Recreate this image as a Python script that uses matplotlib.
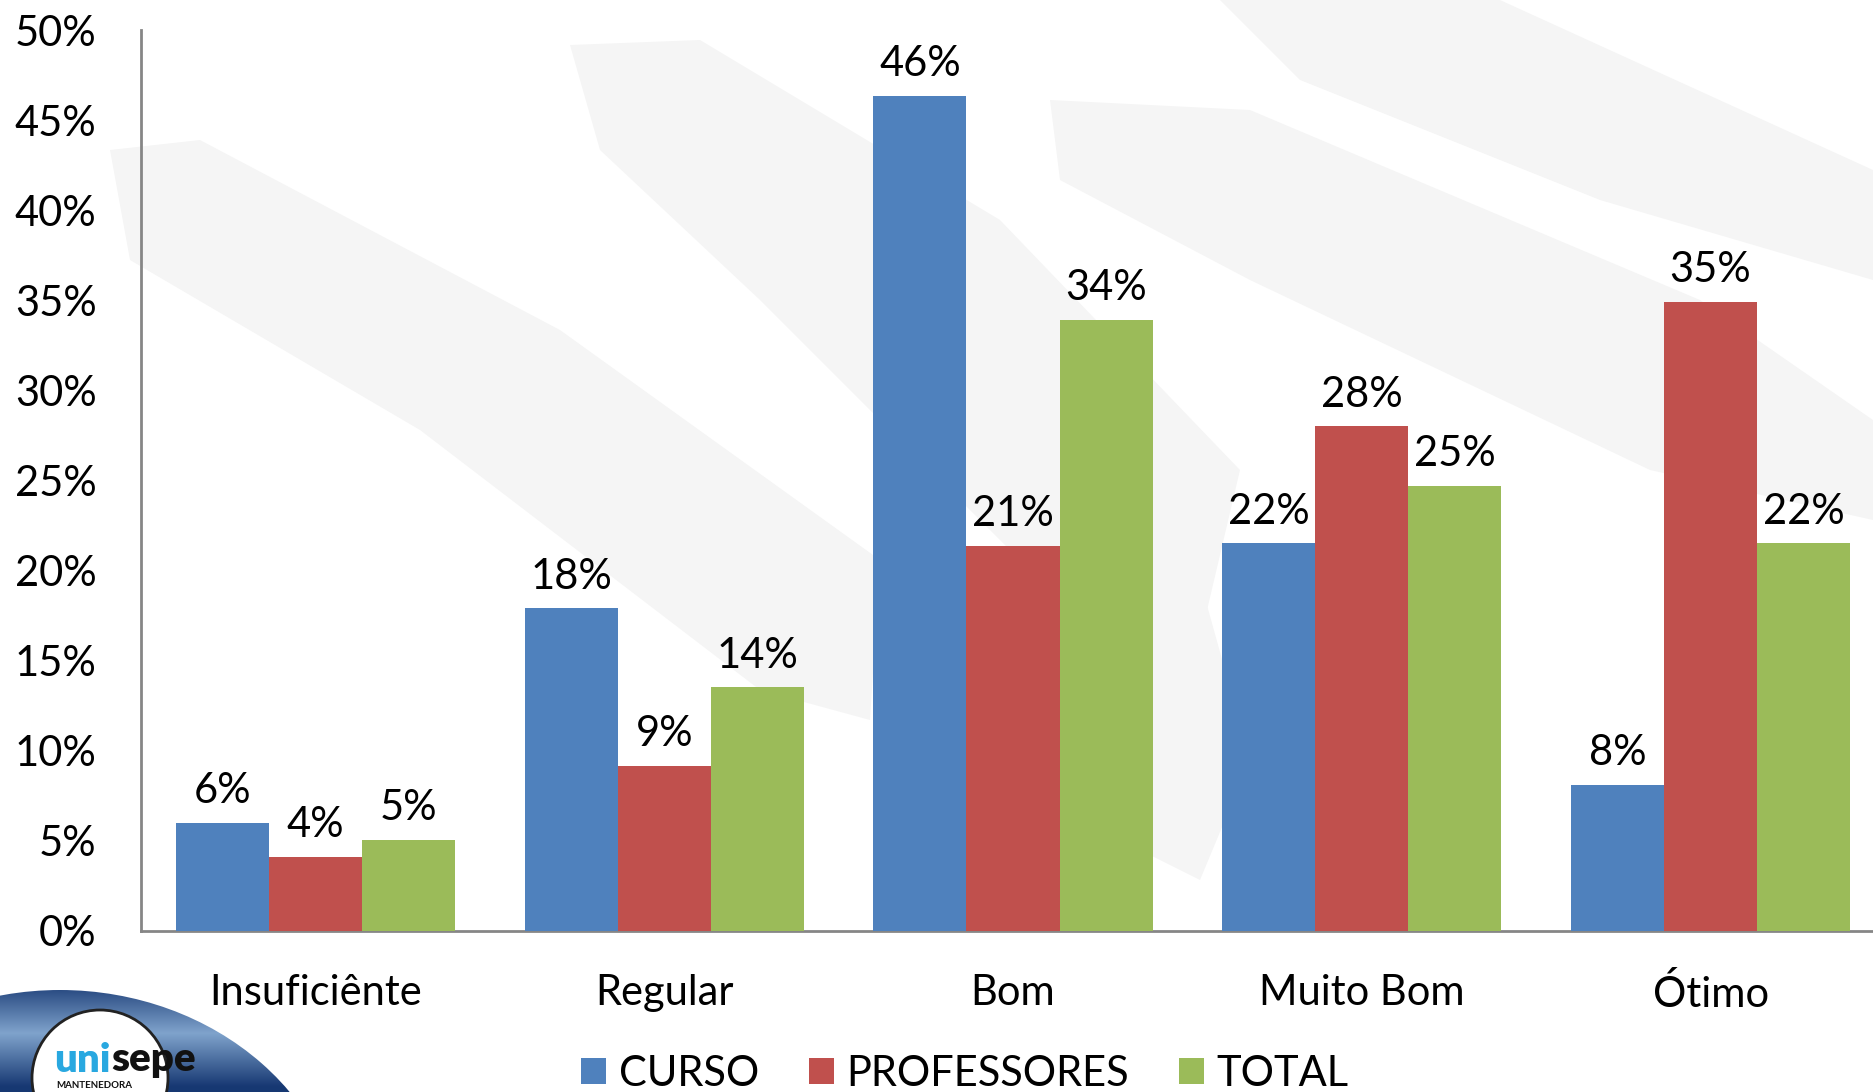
import matplotlib
matplotlib.use("Agg")
import matplotlib.pyplot as plt
import numpy as np
from matplotlib.patches import Ellipse, Circle, Polygon
from matplotlib.transforms import offset_copy

categories = ["Insuficiênte", "Regular", "Bom", "Muito Bom", "Ótimo"]
curso = [5.97, 17.9, 46.35, 21.5, 8.1]
professores = [4.1, 9.15, 21.35, 28.0, 34.9]
total = [5.05, 13.5, 33.9, 24.7, 21.5]
series_names = ["CURSO", "PROFESSORES", "TOTAL"]
colors = ["#4f81bd", "#c0504d", "#9bbb59"]
yticks = [0, 5, 10, 15, 20, 25, 30, 35, 40, 45, 50]

plt.rcParams['font.family'] = ['Lato', 'DejaVu Sans']
FS = 30
W, H = 1873, 1092
fig = plt.figure(figsize=(W / 100, H / 100), dpi=100)

# background watermark strokes (figure pixel coords, from top)
bg = fig.add_axes([0, 0, 1, 1], zorder=0)
bg.set_xlim(0, W); bg.set_ylim(H, 0); bg.axis('off')
strokes = [
    [(110, 150), (200, 140), (560, 330), (880, 560), (870, 720), (760, 690), (420, 430), (130, 260)],
    [(570, 45), (700, 40), (1000, 220), (1240, 470), (1200, 640), (1060, 600), (760, 300), (600, 150)],
    [(1050, 100), (1250, 110), (1700, 300), (1873, 420), (1873, 520), (1650, 470), (1250, 280), (1060, 180)],
    [(1220, 0), (1500, 0), (1873, 170), (1873, 280), (1600, 200), (1300, 80)],
    [(1020, 610), (1200, 580), (1250, 760), (1200, 880), (1080, 820)],
]
for s in strokes:
    bg.add_patch(Polygon(s, closed=True, facecolor="#f5f5f5", edgecolor="none"))

# logo: gradient blue shape
ell = Ellipse((60, 1240), 570, 500, facecolor="none", edgecolor="none")
bg.add_patch(ell)
grad = np.linspace(0, 1, 200)
prof = np.clip(1 - np.abs(grad - 0.45) * 2, 0, 1)
c_dark = np.array([0.09, 0.22, 0.45])
c_light = np.array([0.50, 0.64, 0.80])
img = c_dark[None, :] + (c_light - c_dark)[None, :] * prof[:, None]
img = np.repeat(img[:, None, :], 2, axis=1)
im = bg.imshow(img, extent=(-300, 400, 1092, 985), aspect='auto', zorder=1)
im.set_clip_path(ell)
bg.set_xlim(0, W); bg.set_ylim(H, 0)
bg.add_patch(Circle((100, 1078), 68, facecolor="white", edgecolor="#222222", lw=2, zorder=2))
t_uni = bg.text(54, 1060, "uni", color="#29a8e0", fontsize=29, fontweight="heavy",
                va="center", ha="left", zorder=3)
fig.canvas.draw()
ext = t_uni.get_window_extent(renderer=fig.canvas.get_renderer())
x_end = bg.transData.inverted().transform((ext.x1, ext.y0))[0]
bg.text(x_end + 1, 1060, "sepe", color="#111111", fontsize=29, fontweight="heavy",
        va="center", ha="left", zorder=3)
bg.text(56, 1086, "MANTENEDORA", color="#111111", fontsize=7, fontweight="bold",
        va="center", ha="left", zorder=3)

# main axes
left = 141 / W
bottom = (H - 930.5) / H
top = (H - 30) / H
width = 5 * 292 * (W / 1568) / W
ax = fig.add_axes([left, bottom, width, top - bottom], zorder=2)
ax.patch.set_alpha(0)

x = np.arange(len(categories))
bw = 0.8 / 3
data = [curso, professores, total]
bars_list = []
for i, (vals, name, c) in enumerate(zip(data, series_names, colors)):
    bars = ax.bar(x + (i - 1) * bw, vals, width=bw, color=c, label=name, zorder=3)
    bars_list.append(bars)
    for xi, v in zip(x + (i - 1) * bw, vals):
        ax.annotate(f"{round(v):d}%", (xi, v), xytext=(0, 9), textcoords="offset points",
                    ha="center", va="bottom", fontsize=FS, color="black")

ax.set_xlim(-0.5, 4.5)
ax.set_ylim(0, 50)
ax.set_yticks(yticks)
ax.set_yticklabels([f"{t}%" for t in yticks], fontsize=FS)
ax.set_xticks(x)
ax.set_xticklabels(categories, fontsize=FS)
ax.tick_params(axis='y', length=0, pad=32)
ax.tick_params(axis='x', length=0, pad=31)
for sp in ["top", "right"]:
    ax.spines[sp].set_visible(False)
for sp in ["left", "bottom"]:
    ax.spines[sp].set_color("#868686")
    ax.spines[sp].set_linewidth(2)

leg = fig.legend(handles=bars_list, labels=series_names, loc="lower center",
                 bbox_to_anchor=(965 / W, -0.035), ncol=3, frameon=False, fontsize=FS,
                 handlelength=0.6, handleheight=0.6, handletextpad=0.3, columnspacing=1.2)

fig.savefig("out.png", dpi=100)
